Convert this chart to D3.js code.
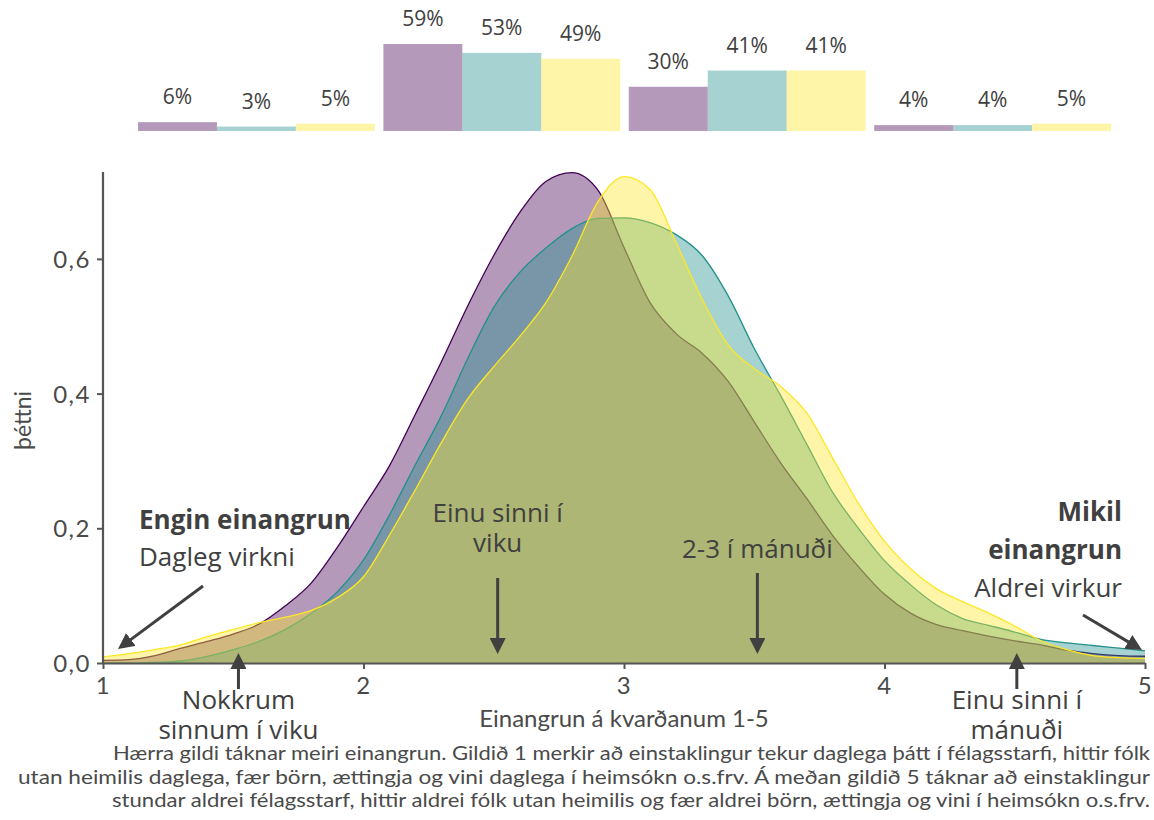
<!DOCTYPE html>
<html><head><meta charset="utf-8">
<script src="https://cdn.jsdelivr.net/npm/d3@7/dist/d3.min.js"></script>
<style>body{margin:0;background:#fff}svg{display:block}</style>
</head><body>
<svg id="chart" width="1154" height="820"></svg>
<script>
// ---------- data ----------
const seriesNames = ["Hópur A", "Hópur B", "Hópur C"];
const seriesColors = ["#440154", "#21918c", "#fde725"];

// top bar chart (share in each band, %)
const barCategories = ["1–2", "2–3", "3–4", "4–5"];
const barsA = [6, 59, 30, 4];
const barsB = [3, 53, 41, 4];
const barsC = [5, 49, 41, 5];

// density curves (þéttni) on the 1-5 scale
const gridX = [1.0,1.1,1.2,1.3,1.4,1.5,1.6,1.7,1.8,1.9,2.0,2.1,2.2,2.3,2.4,2.5,2.6,2.7,2.8,2.9,3.0,
               3.1,3.2,3.3,3.4,3.5,3.6,3.7,3.8,3.9,4.0,4.1,4.2,4.3,4.4,4.5,4.6,4.7,4.8,4.9,5.0];
const densityA = [0.004,0.005,0.011,0.022,0.032,0.043,0.058,0.085,0.119,0.172,0.232,0.293,0.370,0.448,0.530,0.605,0.669,0.715,0.728,0.702,0.617,
                  0.535,0.489,0.460,0.418,0.358,0.298,0.245,0.190,0.143,0.102,0.074,0.057,0.048,0.040,0.033,0.027,0.019,0.014,0.011,0.010];
const densityB = [0.000,0.000,0.001,0.003,0.010,0.020,0.032,0.050,0.074,0.106,0.153,0.220,0.295,0.368,0.452,0.528,0.580,0.616,0.645,0.660,0.661,
                  0.654,0.636,0.605,0.545,0.467,0.398,0.326,0.254,0.200,0.152,0.116,0.086,0.066,0.056,0.046,0.035,0.030,0.026,0.022,0.018];
const densityC = [0.009,0.014,0.020,0.027,0.039,0.050,0.060,0.068,0.078,0.097,0.128,0.190,0.258,0.328,0.392,0.440,0.485,0.535,0.604,0.685,0.722,
                  0.703,0.624,0.540,0.472,0.437,0.411,0.372,0.305,0.237,0.181,0.140,0.110,0.091,0.074,0.055,0.033,0.020,0.011,0.008,0.007];

const xTicks = [1, 2, 3, 4, 5];
const yTicks = [0, 0.2, 0.4, 0.6];
const yTickLabels = ["0,0", "0,2", "0,4", "0,6"];
const yTitle = "þéttni";
const xTitle = "Einangrun á kvarðanum 1-5";

const annotations = [
  {at: 1.52, lines: ["Nokkrum", "sinnum í viku"], pos: "below"},
  {at: 2.515, lines: ["Einu sinni í", "viku"], pos: "above"},
  {at: 3.512, lines: ["2-3 í mánuði"], pos: "above"},
  {at: 4.508, lines: ["Einu sinni í", "mánuði"], pos: "below"}
];
const leftNote = {bold: ["Engin einangrun"], normal: ["Dagleg virkni"]};
const rightNote = {bold: ["Mikil", "einangrun"], normal: ["Aldrei virkur"]};

const captionLines = [
  "Hærra gildi táknar meiri einangrun. Gildið 1 merkir að einstaklingur tekur daglega þátt í félagsstarfi, hittir fólk",
  "utan heimilis daglega, fær börn, ættingja og vini daglega í heimsókn o.s.frv. Á meðan gildið 5 táknar að einstaklingur",
  "stundar aldrei félagsstarf, hittir aldrei fólk utan heimilis og fær aldrei börn, ættingja og vini í heimsókn o.s.frv."
];

// ---------- drawing ----------
const svg = d3.select("#chart");
const ink = "#404040";
const axisInk = "#555555";
const axisFont = "Lato, 'DejaVu Sans', sans-serif";
const noteFont = "'Open Sans', 'Noto Sans', sans-serif";

const x = d3.scaleLinear().domain([1, 5]).range([103, 1145]);
const y = d3.scaleLinear().domain([0, 0.729]).range([663, 172]);

// densities
const densities = [densityA, densityB, densityC];
const area = d3.area().x(d => x(d[0])).y0(y(0)).y1(d => y(d[1])).curve(d3.curveMonotoneX);
const line = d3.line().x(d => x(d[0])).y(d => y(d[1])).curve(d3.curveMonotoneX);
densities.forEach((vals, i) => {
  const pts = gridX.map((gx, j) => [gx, vals[j]]);
  const g = svg.append("g");
  g.append("path").attr("d", area(pts)).attr("fill", seriesColors[i]).attr("fill-opacity", 0.4);
  g.append("path").attr("d", line(pts)).attr("fill", "none").attr("stroke", seriesColors[i]).attr("stroke-width", 1.3);
});

// axes
const yAxis = svg.append("g").attr("transform", `translate(${x(1)},0)`)
  .call(d3.axisLeft(y).tickValues(yTicks).tickFormat((d, i) => yTickLabels[i]).tickSize(6).tickSizeOuter(0).tickPadding(6));
const xAxis = svg.append("g").attr("transform", `translate(0,${y(0)})`)
  .call(d3.axisBottom(x).tickValues(xTicks).tickFormat(d3.format("d")).tickSize(6).tickSizeOuter(0).tickPadding(8));
[yAxis, xAxis].forEach(a => {
  a.select(".domain").attr("stroke", axisInk).attr("stroke-width", 2.2);
  a.selectAll(".tick line").attr("stroke", axisInk).attr("stroke-width", 2);
  a.selectAll(".tick text").attr("fill", "#4a4a4a").style("font-family", axisFont).style("font-size", "24px").style("letter-spacing", "1.5px");
});
yAxis.selectAll(".tick text").attr("dy", "0.36em");
yAxis.select(".domain").attr("d", `M0,${y(0)}V${y.range()[1]}`);

svg.append("text").attr("transform", `translate(31,${(y(0) + y(0.729)) / 2 + 3}) rotate(-90)`)
  .attr("text-anchor", "middle").attr("fill", "#4a4a4a")
  .style("font-family", axisFont).style("font-size", "23px").text(yTitle);
svg.append("text").attr("x", (x(1) + x(5)) / 2).attr("y", 727)
  .attr("text-anchor", "middle").attr("fill", "#4a4a4a")
  .style("font-family", axisFont).style("font-size", "24px").text(xTitle);

// top bars
const xb = d3.scaleBand().domain(barCategories).range([138, 1111]).paddingInner(0.035);
const xs = d3.scaleBand().domain(seriesNames).range([0, xb.bandwidth()]);
const yb = d3.scaleLinear().domain([0, 59]).range([131, 44]);
const barSets = [barsA, barsB, barsC];
barSets.forEach((vals, i) => {
  const g = svg.append("g");
  g.selectAll("rect").data(vals).join("rect")
    .attr("x", (d, j) => xb(barCategories[j]) + xs(seriesNames[i]))
    .attr("width", xs.bandwidth())
    .attr("y", d => yb(d))
    .attr("height", d => yb(0) - yb(d))
    .attr("fill", seriesColors[i]).attr("fill-opacity", 0.4);
  g.selectAll("text").data(vals).join("text")
    .attr("x", (d, j) => xb(barCategories[j]) + xs(seriesNames[i]) + xs.bandwidth() / 2)
    .attr("y", d => yb(d) - 18)
    .attr("text-anchor", "middle").attr("fill", ink)
    .style("font-family", noteFont).style("font-size", "21px")
    .text(d => d + "%");
});

// arrow marker
svg.append("defs").append("marker").attr("id", "ah")
  .attr("markerUnits", "userSpaceOnUse").attr("markerWidth", 16).attr("markerHeight", 16)
  .attr("viewBox", "0 0 16 16").attr("refX", 4).attr("refY", 8).attr("orient", "auto")
  .append("path").attr("d", "M0,0 L16,8 L0,16 Z").attr("fill", ink);

function arrow(x1, y1, x2, y2) {
  const dx = x2 - x1, dy = y2 - y1, L = Math.hypot(dx, dy);
  const ex = x2 - dx / L * 12, ey = y2 - dy / L * 12;
  svg.append("line").attr("x1", x1).attr("y1", y1).attr("x2", ex).attr("y2", ey)
    .attr("stroke", ink).attr("stroke-width", 3).attr("marker-end", "url(#ah)");
}
function note(tx, ty, str, anchor, bold) {
  svg.append("text").attr("x", tx).attr("y", ty).attr("text-anchor", anchor)
    .attr("fill", ink).style("font-family", noteFont).style("font-size", "26px")
    .style("font-weight", bold ? "700" : "400").text(str);
}

annotations.forEach(a => {
  const ax = x(a.at);
  if (a.pos === "below") {
    arrow(ax, 689, ax, y(0) - 10);
    a.lines.forEach((s, k) => note(ax, 709 + k * 30, s, "middle", false));
  } else {
    const top = a.lines.length === 2 ? 522 : 558;
    a.lines.forEach((s, k) => note(ax, top + k * 30, s, "middle", false));
    arrow(ax, a.lines.length === 2 ? 578 : 573, ax, y(0) - 9);
  }
});

// left end note
leftNote.bold.forEach((s, k) => note(139, 529 + k * 37, s, "start", true));
leftNote.normal.forEach((s, k) => note(139, 529 + (leftNote.bold.length + k) * 37, s, "start", false));
arrow(203, 586, x(1) + 15, y(0) - 14);

// right end note
rightNote.bold.forEach((s, k) => note(1122, 521 + k * 38, s, "end", true));
rightNote.normal.forEach((s, k) => note(1122, 521 + (rightNote.bold.length + k) * 38, s, "end", false));
arrow(1083, 615, x(5) - 3, y(0) - 13);

// caption
const capStarts = [113, 18, 112];
captionLines.forEach((s, k) => {
  svg.append("text").attr("x", capStarts[k]).attr("y", 760 + k * 23.5)
    .attr("textLength", 1150 - capStarts[k]).attr("lengthAdjust", "spacingAndGlyphs")
    .attr("fill", "#4a4a4a").style("font-family", axisFont).style("font-size", "19px").text(s);
});
</script>
</body></html>
